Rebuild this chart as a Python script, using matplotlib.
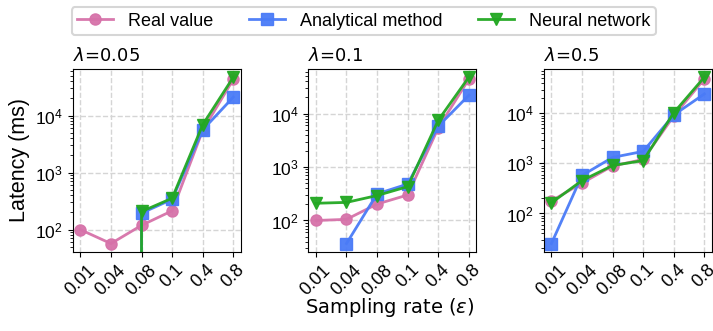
import numpy as np
import matplotlib.pyplot as plt

plt.rcParams['font.family'] = ['Liberation Sans', 'DejaVu Sans']
plt.rcParams['mathtext.fontset'] = 'dejavusans'

rates = ['0.01', '0.04', '0.08', '0.1', '0.4', '0.8']
lambdas = ['0.05', '0.1', '0.5']

# latency in ms, one list per lambda (0 = no value, nan = not drawn)
real = [
    [100, 57, 119, 214, 5500, 43000],
    [100, 105, 203, 300, 5400, 44000],
    [178, 405, 890, 1200, 8900, 49000],
]
analytical = [
    [0, 0, 195, 340, 5600, 21000],
    [np.nan, 37, 315, 480, 5800, 22000],
    [25, 575, 1320, 1740, 9300, 24500],
]
neural = [
    [0, 0, 208, 355, 6900, 47000],
    [210, 218, 293, 430, 7500, 48000],
    [163, 455, 910, 1140, 10300, 53000],
]

c_real = '#d672a9'
c_ana = '#4a7bf7'
c_nn = '#22a822'

fig, axes = plt.subplots(1, 3, figsize=(7.13, 3.31), dpi=100)
plt.subplots_adjust(left=0.102, right=0.9986, top=0.792, bottom=0.239, wspace=0.40)

x = np.arange(len(rates))
for i, ax in enumerate(axes):
    ax.plot(x, real[i], marker='o', color=c_real, lw=2, ms=8, alpha=0.95, label='Real value')
    ax.plot(x, analytical[i], marker='s', color=c_ana, lw=2, ms=8, alpha=0.95, label='Analytical method')
    ax.plot(x, neural[i], marker='v', color=c_nn, lw=2, ms=8, alpha=0.95, label='Neural network')
    ax.set_yscale('log')
    ax.set_xticks(x)
    ax.set_xticklabels(rates, rotation=45, fontsize=13)
    ax.tick_params(axis='y', labelsize=12.5)
    ax.grid(True, ls='--', color='#d5d5d5', lw=1)
    ax.set_axisbelow(True)
    ax.set_title('$\\lambda$=' + lambdas[i], loc='left', fontsize=13, family='DejaVu Sans')

axes[0].set_ylabel('Latency (ms)', fontsize=15.5)
fig.text(0.547, 0.07, 'Sampling rate ($\\epsilon$)', ha='center', va='center',
         fontsize=14, family='DejaVu Sans')

h, l = axes[0].get_legend_handles_labels()
leg = fig.legend(h, l, loc='upper center', bbox_to_anchor=(0.51, 1.005), ncol=3,
                 fontsize=13, frameon=True, borderpad=0.3, columnspacing=2.0, handletextpad=0.8)
leg.get_frame().set_edgecolor('#cccccc')
leg.get_frame().set_linewidth(1.5)

plt.savefig('out.png')
